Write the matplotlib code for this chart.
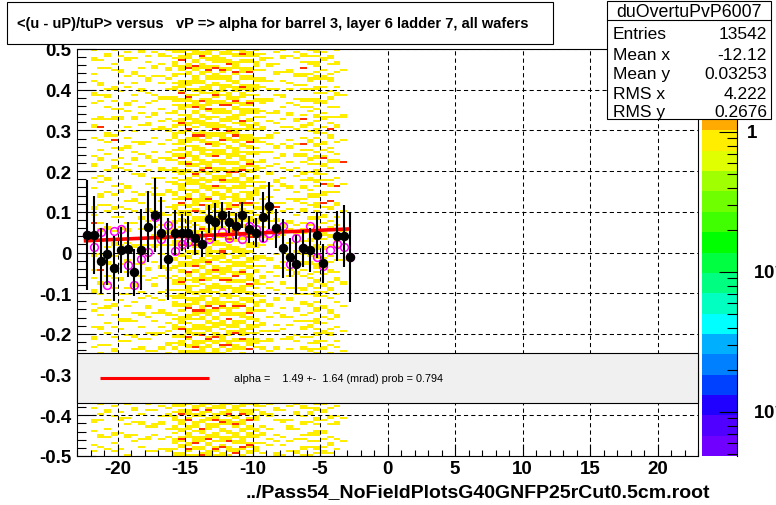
import numpy as np
import matplotlib
matplotlib.use("Agg")
import matplotlib.pyplot as plt
from matplotlib.colors import ListedColormap, LogNorm
from matplotlib.ticker import FixedLocator, FixedFormatter, MultipleLocator, LogLocator, NullFormatter
from matplotlib.patches import Rectangle
from matplotlib.lines import Line2D

plt.rcParams['font.family'] = ['Liberation Sans', 'DejaVu Sans']
plt.rcParams['axes.unicode_minus'] = False
plt.rcParams['mathtext.fontset'] = 'custom'
plt.rcParams['mathtext.rm'] = 'Liberation Sans'
plt.rcParams['mathtext.bf'] = 'Liberation Sans:bold'

# ---------------- data ----------------
title = "<(u - uP)/tuP> versus   vP => alpha for barrel 3, layer 6 ladder 7, all wafers"
x_label = "../Pass54_NoFieldPlotsG40GNFP25rCut0.5cm.root"
hist_name = "duOvertuPvP6007"
stat_names = ["Entries", "Mean x", "Mean y", "RMS x", "RMS y"]
stat_values = ["13542", "-12.12", "0.03253", "4.222", "0.2676"]
fit_text = "alpha =    1.49 +-  1.64 (mrad) prob = 0.794"

x_ticks = [-20, -15, -10, -5, 0, 5, 10, 15, 20]
x_tick_labels = ["-20", "-15", "-10", "-5", "0", "5", "10", "15", "20"]
y_ticks = [-0.5, -0.4, -0.3, -0.2, -0.1, 0.0, 0.1, 0.2, 0.3, 0.4, 0.5]
y_tick_labels = ["-0.5", "-0.4", "-0.3", "-0.2", "-0.1", "0", "0.1", "0.2", "0.3", "0.4", "0.5"]
z_ticks = [1.0, 0.1, 0.01]
z_tick_labels = ["1", r"$\mathbf{10^{-1}}$", r"$\mathbf{10^{-2}}$"]
z_min, z_max = 0.00485, 3.92

prof_x = [-22.25, -21.75, -21.25, -20.75, -20.25, -19.75, -19.25, -18.75, -18.25, -17.75,
          -17.25, -16.75, -16.25, -15.75, -15.25, -14.75, -14.25, -13.75, -13.25, -12.75,
          -12.25, -11.75, -11.25, -10.75, -10.25, -9.75, -9.25, -8.75, -8.25, -7.75,
          -7.25, -6.75, -6.25, -5.75, -5.25, -4.75, -4.25, -3.75, -3.25, -2.75]
prof_y = [0.043, 0.043, -0.021, -0.003, -0.039, 0.006, 0.008, -0.049, 0.007, 0.063,
          0.092, 0.048, -0.016, 0.049, 0.049, 0.049, 0.035, 0.021, 0.082, 0.075,
          0.092, 0.075, 0.065, 0.092, 0.057, 0.049, 0.087, 0.115, 0.059, 0.010,
          -0.012, -0.029, 0.010, 0.005, 0.043, -0.027, np.nan, 0.040, 0.040, -0.012]
prof_err = [0.134, 0.095, 0.080, 0.076, 0.080, 0.056, 0.068, 0.058, 0.100, 0.087,
            0.090, 0.089, 0.100, 0.056, 0.045, 0.040, 0.040, 0.033, 0.035, 0.047,
            0.031, 0.027, 0.033, 0.031, 0.033, 0.035, 0.062, 0.058, 0.048, 0.072,
            0.047, 0.072, 0.045, 0.054, 0.056, 0.047, np.nan, 0.062, 0.076, 0.109]
alt_y = [0.043, 0.013, 0.050, -0.081, 0.053, 0.057, -0.030, -0.079, -0.016, 0.001,
         0.088, 0.032, 0.068, 0.003, 0.022, 0.027, 0.035, 0.021, 0.033, 0.075,
         0.050, 0.035, 0.065, 0.034, 0.064, 0.057, 0.036, 0.049, 0.054, 0.064,
         -0.028, 0.035, 0.010, 0.064, -0.012, -0.034, 0.007, 0.022, 0.013, -0.012]

fit_a, fit_b = 0.0621, 0.00149        # y = a + b*x
fit_x = [-22.5, -2.7]

# 2D cells: 38 columns (width 0.5) from x=-22 to -3; rows of height 0.005 from y=0.5 down.
# One string per column, read from the top: 150 rows above the fit box, 26 rows below it.
cell_x0, cell_dx, cell_ncol = -22.0, 0.5, 38
cell_y_top, cell_dy, cell_nrow = 0.5, 0.005, 200
n_top, n_hidden, n_bot = 150, 24, 26
cell_level = {'y': 1.0, 'r': 3.0}
cols_top = [
    "y...yy......y..y.....yy...y.......y..yy....y......" "..y...yy.....y....y........yy..y...r....y...y....." "yy......y...y.....yy.....y..y.......y....yy...y...",
    ".....y...y......yy....y..y.......yy...r.....y....y" "...yy.......y..y.....yy...y........y..yy....y....." "y....y..r.....yy....y......y..y.....yy.......y...y",
    "..yy.....y.........y..yy....y.....y......yy..y...." ".y.......y...yy.....y.....y..y.......yy....y...y.." "....yy.....y...y.......y..yy......y....y.....y....",
    "y......y..y.......yy.....y...y...yy.......y.r...y." "....y..yy........y...y.....yy...y......y.....yy..." ".y.......y..y....y.......yy...y.....y....y.....yy.",
    "...y......yy....y...y........y...yy.....y.......yy" "...y....y.......y..yy......y....y....yy.......y..." "y....y......yy......y..y........yy...y.....y......",
    ".y..yy.......y....y.......yy..y.......y....y...yy." "......y..y.......yy.....y...y......y..yy.....y...." "...yy....y.......y..y.....y.....yy......y..y......",
    "....y......yy...y.....y..y.......yy.....y....y...." "y..yy......y........y..yy....y.....y.......y..yy.." ".....y...y.....yy.......y....y...y......yy.....y..",
    "yy.......y...y.....yy.......y..y.....y.......yy..." ".y.....y...yy........y...y......yy....y.......y..." "y...yy.....y.......y..y......yy.....y.....y...yy..",
    "...y..y.......yy.....y....y......y..yy.......y...." "..yy.....y......y...y.......yy....y..y........y..." ".y.....yy....y.......y....yy...y.......y..y.....y.",
    ".y......yy...y........y..y.....yy......y...y......" "y...yy.......y....y..y.......yy......y...y....yy.." "....y.......y..yy.....y......y...y.....yy.......y.",
    "..yy...y.....y..y......yy....y.....y..yy......y..." "...y....yy...y.......y..y.....yy....y......y..y..." "y.....yy...y.......y...y....yy......y..y......yy..",
    "y..y.....yy...y....y...yy......y..y....yy...y....." "y..yy....y.....y...yy......y...y....y..yy.....y..." "..y....yy...y.....y..y.......yy...y...y.....yy...y",
    "yy..y.yyy...yy..y.yy...yyy.y..yy...y.yy..yyy..y..y" ".yy.y...yyy..y.yy...yy.y..yyy.y...yy..yr.y..yyy..." "y.yy..yy...y.yyy..y..yy.yyy...y.y..yyy..yy..y.yy..",
    "yy.yyr..yyy.y..yyyy.yr..yy.yyy..y.yyry..yy..yyy.yy" ".yyr.yy..yyy..y.yyyy..yy.ry..yyy.yy..y.yyy..yyr.y." "yy..yyy.yy..yyry..y.yyy..yy.y..yyyy.yr..yy.yyy..yy",
    "y.yyy..yyr.yy..yyy.y..yryy.yy...yyy.yy.ry..yyy.y.." "yyy..yry.yy..yyyy..y.yyr..yy.yyy..yy.y..yyyr.yy..y" ".yy.yyy..ryy.y..yyyy..yy.yyr..yyy.y..yyy.ry..yy.yy",
    "yyy..yy.ryy..yyyy..yy.y..yyyr.yy..yyy.y..yryy..yyy" "..yyy.yy..yry.yyy..yy..yyyy.yr..yyy.y..yyy..yyry.y" "y..yyyr.yy..yyy.y..yy.yyyy..ryy.y..yyy.yy..yyyr.yy",
    ".yyry..yyy.yy..yy.yyyy..yr.yyy..yy.yyy..yyr.yy..yy" "yy..yyy.yry..yy.yyy..yyyy.r..yy.yyy..yry.yy..yyy.." "..yyy.yy..yyyr.y..yy.yyy..yyry.yy..yyy.yr..yy.yyyy",
    "yyy.yy..yyry.yy..yyy.y..yyyy.ry..yy.yyy..yyy.yr..y" ".yy..yyyr.yy..yy.yyy..yry.yyy..yy.yy..yyyy.ry..yyy" "yy.yry..yyy.yy..yyyy.y..yyr.yyy..yy.yyy..yry.yy..y",
    "y..yyyy.yr..yyy.yy..yyry.yy..yyy.y..yyyr.yy..yyy.y" "yyr.yy..yyy.yyy..ry.yy..yyyy.y..yyr.yyy..yy.yyy..y" ".yyy..yyry.yy..yyy.y..yyyy.ry..yy.yyy..yyr.yy..yyy",
    ".yy.yyy..yry.yy..yyyy.y..yyr.yyy..yy.yy..yyyr.y..y" "yy..yyy.yy..yyry.yy..yyy.y..yyyy.ry..yy.yyy..yy.yr" "yyy.y..yyyy.yr..yyy.yy..yyry.yy..yyy.y..yyyy.ry..y",
    "yyy..yyr.yy..yyy.yy..yyyy.yr..yy.yyy..yyry.yy..yy." ".yyy.yy..yryy.yy..yyy.y..yyyr.yy..yyy.yy..yry.yyy." "y..yy.yyyy..yry.yy..yyy.y..yyyy.r..yy.yyy..yyr.yy.",
    "y.yy..yyyy.ry..yy.yyy..yyry.yy..yyy.y..yyyr.yy..yy" "yyy..yy.yyr..yyy.yy..yyyy.ry..yy.yyy..yryy.yy..yyy" ".yy.yyy..yyr.yy..yyy.y..yyry.yy..yyyy.yr..yy.yyy..",
    "yyry.yy..yyy.yy..yry.yyy..yy.yyyy..ryy.y..yyy.yy.." "y.yyy..yyr.yy..yyyy.y..yyry.yy..yyy.yy..yryy.y..yy" "yy..yyy.yry..yy.yyyy..yy.yr..yyy.yy..yyyy.ry..yy.y",
    ".yyy.yy..yyr.yy..yyyy.y..yry.yyy..yy.yyy..yyyr.yy." "yy..yyry.yy..yyy.y..yyyy.ry..yy.yyy..yy.yyr..yyy.y" "..yyy.yy..yyyy.ry..yy.yyy..yyr.yy..yyy.y..yyyy.r..",
    "y.yy..yyy.y...yy.yyy..y.yy...yyy.y..yy.y...yyy..y." "yy...y.yyy..yy.y..yyyy...y.yy..y.yyy...yy.y..yyy.." ".yyy..y.yy...yyy.y..yy..yyy.y...yy.yy..y..yyy.y...",
    "..y.yy....y...yy..y.....yyy...y..y....yy...y.y...." "y...yy..y......y.yy....y...yy.....y..y...yy...y..." ".yy...y....yy..y.....y.yy...y.....yy..y....y..yy..",
    "....y..yy......y...y....yy.....y...y......yy..y..." "y......y..yy.....y....y......yy...y.....y..y......" "..yy.....y....y..y.......yy....y......y...yy....y.",
    ".y.....y...yy......y..y.......yy....y....y.....yy." "...y..y.......yy...y.....y.r.....yy....y..y......." "y.....yy...y......y...yy.....y.....y..y.......yy..",
    "y..yy......y...y......yy....y.....y...y.......y..." ".yy.....y....y..yy.......y...y......yy...y.....y.." "....y..y......yy....y......y..yy.....y....y.......",
    "...y......yy....y..y......y....yy.....y.....y..yy." ".....y...y.......yy....y....y.....yy..y......y...." "yy......y..y.....y....yy.......y...y.....yy....y..",
    ".y..y.......yy...y......y..y......yy...y......y...." "yy.....y...y.......y..yy......y....y...yy.......y." "...y....yy......y..y......yy....y......y..y.......",
    "..yy..y..r..yy...y.y....yy..y...y.r..yy....y..r..y" ".yy..y....yy..y..yy....y.y..yy.....y..yyy...y..y.." "y...yy..y..y.....yy.y...yy....y..y..yy...y....yy..",
    "y..y..yy....y.yy...y....yy..y.y.....yy..y...yy...y" "...yy.y...y..yy....y.yy...y.....yy..y..y...yy..y.." ".y..yy....y.y..yy...y....yy..y...y.yy....y..y..yy.",
    "yy.y..yyy..y.yy...yy.y..yyy..y..yy.y...yyy.y..yy.." "y.yy..y..yyy..yy.y...yy..yyy.y..yy...y.yy..y..yyy." ".yy..yyy.y...yy..y.yyy..y..yy...yyy..y.yy..yy..y.y",
    ".y..yy....y..yy...y..y...yy....y.yy...y..y...yy..y" "..yr..yy...y..y.r...yy...r.y...yy..y....yy.y...yy." "..y...yy..y....yy..y.y....yy...y..y...yy...y..yy..",
    "...yy..y....y.yy....y..yy...y....y..y..r..yy....y." "y...yy..y.....y.yy..y...r..yy.....y..y...yy...y..." ".y..y...yy....y..yy...y.....yy..y....y.yy....y...y",
    "y.....yy...y......y..yy.....y....y...yy......y...." ".y..yy.......y...r..y....yy.....y...y......yy..y.." "...y.....y..yy......y...y.....yy....y......y..y...",
    "..........y...........y.........yy..........y....." ".....r..........y............y.........y.........." "...y..........yy..........y...........y.........y.",
]
cols_bot = [
    "..y.....yy...y......y..y..", "y....y..y......yy....y....", "...yy.......y...y.....y...",
    ".y....y.......yy...y...y..", "....y..yy.....y.......y...", "y......y..y....yy........y",
    "..yy.....y.....y..y.......", ".....y...yy......y...y....", "y..y.......y....yy.....y..",
    "...y......yy...y.......y..", ".y....y..yy......y....y...", "..y..yy.....y...y.....yy..",
    "yy..y.yyy..yy.y..yyy..y.yy", "yy.yyr..yyy.yy..yry.yy..yy", "y..yyy.yr..yy.yyy..yy.ry.y",
    ".yyr.yy..yyy.y..yyyr.yy..y", "yy..yyy.yy..ryy.yyy..yy.yr", "y.yry..yy.yyy..yyr.yy..yyy",
    ".yy..yyyr.yy..yyy.y..yry.y", "yyy.yy..yry.yy..yyy.yr..yy", "y..yyry.yyy..yy.yyr..yyy.y",
    ".yyy..yy.yry..yyy.yy..yyr.", "yy.yyr..yyy.yy..yyyy.ry..y", "y..yyy.yr..yy.yyy..yry.yy.",
    "yy.y..yyy...yy.yy..y.yyy..", ".y..yy.....y..yy...y....y.", "y....yy.....y....y..y.....",
    "..yy....y......y..y.....yy", "...y....yy......y...y....y", ".y......y..yy.....y....y..",
    "y...yy......y....y.....yy.", ".yy...y..yy....y.y...yy..y", "..y.yy...y....yy..y..y...y",
    "y.yy...yy.y..yyy..y..yy.y.", "y..yy...y....yy..y...y.yy.", "..y...yy..y.....y..yy...y.",
    ".y....y..yy......y....y...", ".......y..........y.......",
]

# palette (bottom to top), 20 levels on a log z scale
palette = ['#7000ff', '#5000ff', '#2000ff', '#0040ff', '#0080ff', '#00b0ff', '#00ffff',
           '#00ffc0', '#00ff80', '#00ff40', '#00ff00', '#40ff00', '#70ff00', '#a0ff00',
           '#e0ff00', '#ffee00', '#ffaa00', '#ff7800', '#ff5000', '#ff3000']

# ---------------- figure ----------------
W, H = 776, 506
fig = plt.figure(figsize=(W / 100, H / 100), dpi=100)
fig.patch.set_facecolor('white')

L, R, T, B = 77, 698, 50, 457
ax = fig.add_axes([L / W, 1 - B / H, (R - L) / W, (B - T) / H])
ax.set_xlim(-23, 23)
ax.set_ylim(-0.5, 0.5)

Z = np.full((cell_nrow, cell_ncol), np.nan)
for j in range(cell_ncol):
    col = (cols_top[j].ljust(n_top, '.')[:n_top] + '.' * n_hidden
           + cols_bot[j].ljust(n_bot, '.')[:n_bot])
    for i, ch in enumerate(col):
        if ch in cell_level:
            Z[i, j] = cell_level[ch]
x_edges = cell_x0 + cell_dx * np.arange(cell_ncol + 1)
y_edges = cell_y_top - cell_dy * np.arange(cell_nrow + 1)
cmap = ListedColormap(palette)
norm = LogNorm(vmin=z_min, vmax=z_max)
mesh = ax.pcolormesh(x_edges, y_edges[::-1], Z[::-1], cmap=cmap, norm=norm,
                     shading='flat', antialiased=False, linewidth=0, zorder=1)

ax.grid(True, which='major', color='black', linestyle=(0, (4, 3)), linewidth=0.75)
ax.set_axisbelow('line')

ax.plot(prof_x, alt_y, 'o', mfc='none', mec='#ff00ff', ms=5.6, mew=1.1, zorder=3)
fx = np.array(fit_x)
ax.plot(fx, fit_a + fit_b * fx, color='#ff0000', lw=2.6, zorder=3.5, solid_capstyle='butt')
ax.errorbar(prof_x, prof_y, yerr=prof_err, fmt='o', color='black', ms=5.8,
            elinewidth=1.5, capsize=0, zorder=4)

ax.xaxis.set_major_locator(FixedLocator(x_ticks))
ax.xaxis.set_major_formatter(FixedFormatter(x_tick_labels))
ax.xaxis.set_minor_locator(MultipleLocator(1))
ax.yaxis.set_major_locator(FixedLocator(y_ticks))
ax.yaxis.set_major_formatter(FixedFormatter(y_tick_labels))
ax.yaxis.set_minor_locator(MultipleLocator(0.02))
ax.tick_params(axis='x', which='major', direction='in', length=8.6, width=0.8, top=False, pad=3,
               labelsize=13.5)
ax.tick_params(axis='x', which='minor', direction='in', length=4.3, width=0.8, top=False)
ax.tick_params(axis='y', which='major', direction='in', length=13.7, width=0.8, right=False, pad=4,
               labelsize=13.5)
ax.tick_params(axis='y', which='minor', direction='in', length=6.8, width=0.8, right=False)
for lab in ax.get_xticklabels() + ax.get_yticklabels():
    lab.set_fontweight('bold')
for sp in ax.spines.values():
    sp.set_linewidth(0.8)

# colour scale
cax = fig.add_axes([702 / W, 1 - B / H, 35 / W, (B - T) / H])
cb = fig.colorbar(mesh, cax=cax)
cb.outline.set_visible(False)
cax.yaxis.set_ticks_position('right')
cax.yaxis.set_major_locator(LogLocator(base=10))
cax.yaxis.set_minor_locator(LogLocator(base=10, subs=np.arange(2, 10)))
cax.yaxis.set_major_formatter(NullFormatter())
cax.yaxis.set_minor_formatter(NullFormatter())
cax.tick_params(which='major', direction='in', length=13, width=0.8)
cax.tick_params(which='minor', direction='in', length=7, width=0.8)
cax.add_line(Line2D([1, 1], [0, 1], transform=cax.transAxes, color='black', lw=0.8, clip_on=False))

# overlay in pixel coordinates
ov = fig.add_axes([0, 0, 1, 1], zorder=10)
ov.set_xlim(0, W)
ov.set_ylim(H, 0)
ov.axis('off')
ov.patch.set_alpha(0)

def zpix(v):
    return B - (np.log10(v) - np.log10(z_min)) / (np.log10(z_max) - np.log10(z_min)) * (B - T)

for v, lab, xo in zip(z_ticks, z_tick_labels, [747, 753, 753]):
    ov.text(xo, zpix(v), lab, ha='left', va='center', fontsize=13.5, fontweight='bold')

# fit result box
ov.add_patch(Rectangle((L, 354), R - L, 50, facecolor='#f0f0f0', edgecolor='black', lw=0.8))
ov.plot([100, 209], [379, 379], color='#ff0000', lw=2.2, solid_capstyle='butt')
ov.text(234, 379, fit_text, ha='left', va='center', fontsize=7.8)

# title box
ov.add_patch(Rectangle((7, 3), 546, 42, facecolor='white', edgecolor='black', lw=0.8))
ov.text(17, 24, title, ha='left', va='center', fontsize=10.5, fontweight='bold')

# stats box
ov.add_patch(Rectangle((607, 2), 164, 118, facecolor='white', edgecolor='black', lw=0.8))
ov.plot([607, 771], [21, 21], color='black', lw=0.8)
ov.text(689, 12, hist_name, ha='center', va='center', fontsize=12.8)
for yy, nm, val in zip([34, 55, 74, 94, 112], stat_names, stat_values):
    ov.text(613, yy, nm, ha='left', va='center', fontsize=12.5)
    ov.text(767, yy, val, ha='right', va='center', fontsize=12.5)

# x axis title
ov.text(710, 493, x_label, ha='right', va='center', fontsize=14, fontweight='bold')

fig.savefig('out.png', dpi=100)
